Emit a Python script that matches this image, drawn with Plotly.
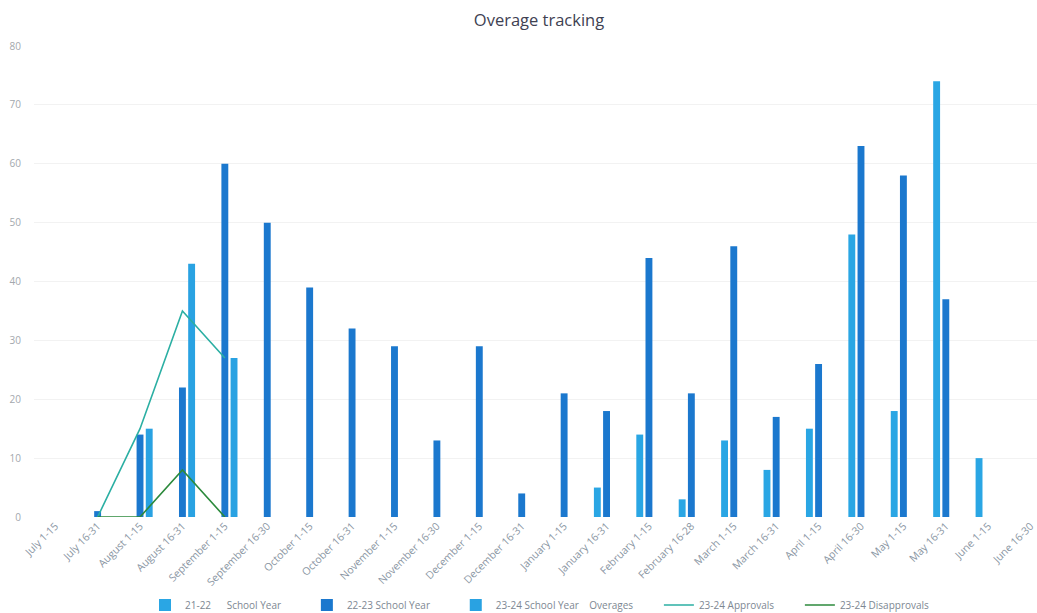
import plotly.graph_objects as go

categories = ["July 1-15", "July 16-31", "August 1-15", "August 16-31", "September 1-15",
              "September 16-30", "October 1-15", "October 16-31", "November 1-15",
              "November 16-30", "December 1-15", "December 16-31", "January 1-15",
              "January 16-31", "February 1-15", "February 16-28", "March 1-15",
              "March 16-31", "April 1-15", "April 16-30", "May 1-15", "May 16-31",
              "June 1-15", "June 16-30"]

sy_21_22 = [None, None, None, None, None, None, None, None, None, None, None, None, None,
            5, 14, 3, 13, 8, 15, 48, 18, 74, 10, None]
sy_22_23 = [None, 1, 14, 22, 60, 50, 39, 32, 29, 13, 29, 4, 21,
            18, 44, 21, 46, 17, 26, 63, 58, 37, None, None]
sy_23_24_overages = [None, None, 15, 43, 27, None, None, None, None, None, None, None, None,
                     None, None, None, None, None, None, None, None, None, None, None]
approvals_23_24 = [None, 0, 15, 35, 27] + [None] * 19
disapprovals_23_24 = [None, 0, 0, 8, 0] + [None] * 19

y_ticks = [0, 10, 20, 30, 40, 50, 60, 70, 80]

NB = "\u00a0"
PAD = NB * 8
fig = go.Figure()
fig.add_trace(go.Bar(x=categories, y=sy_21_22, name="21-22" + NB * 6 + "School Year" + PAD,
                     marker=dict(color="#2AA6E4", line=dict(width=0))))
fig.add_trace(go.Bar(x=categories, y=sy_22_23, name="22-23 School Year" + PAD,
                     marker=dict(color="#1B78CE", line=dict(width=0))))
fig.add_trace(go.Bar(x=categories, y=sy_23_24_overages, name="23-24 School Year" + NB * 4 + "Overages" + PAD,
                     marker=dict(color="#29A2E2", line=dict(width=0))))
fig.add_trace(go.Scatter(x=categories, y=approvals_23_24, name="23-24 Approvals" + PAD, mode="lines",
                         line=dict(color="#2BAFA3", width=1.6)))
fig.add_trace(go.Scatter(x=categories, y=disapprovals_23_24, name="23-24 Disapprovals", mode="lines",
                         line=dict(color="#2C8A3C", width=1.6)))

fig.update_layout(
    width=1037, height=613, autosize=False,
    margin=dict(l=34, r=0, t=46, b=96, autoexpand=False),
    paper_bgcolor="white", plot_bgcolor="white",
    barmode="group", bargap=0.35, bargroupgap=0.25,
    font=dict(family="Open Sans", color="#8a96a3", size=10),
    title=dict(text="Overage tracking", x=539 / 1037, xref="container", xanchor="center",
               y=1 - 20 / 613, yanchor="middle",
               font=dict(family="Open Sans", size=16.5, color="#3e4152")),
    legend=dict(orientation="h", x=(540 - 34) / 1003, xanchor="center",
                y=-(605 - 517) / 471, yanchor="middle",
                font=dict(size=10, color="#7d8792"), itemwidth=30,
                tracegroupgap=0),
    showlegend=True,
)
fig.update_xaxes(type="category", range=[-0.5, 23.15], tickangle=-45, automargin=False,
                 showgrid=False, showline=False, zeroline=False, ticks="",
                 tickfont=dict(size=10.5, color="#8a96a3"))
fig.update_yaxes(range=[0, 80], tickvals=y_ticks, showgrid=True, gridcolor="#f2f2f2",
                 gridwidth=1, zeroline=False, showline=False, ticks="", automargin=False,
                 ticklabelstandoff=12, tickfont=dict(size=10, color="#a3a8ad"))

fig.write_html("out.html")
